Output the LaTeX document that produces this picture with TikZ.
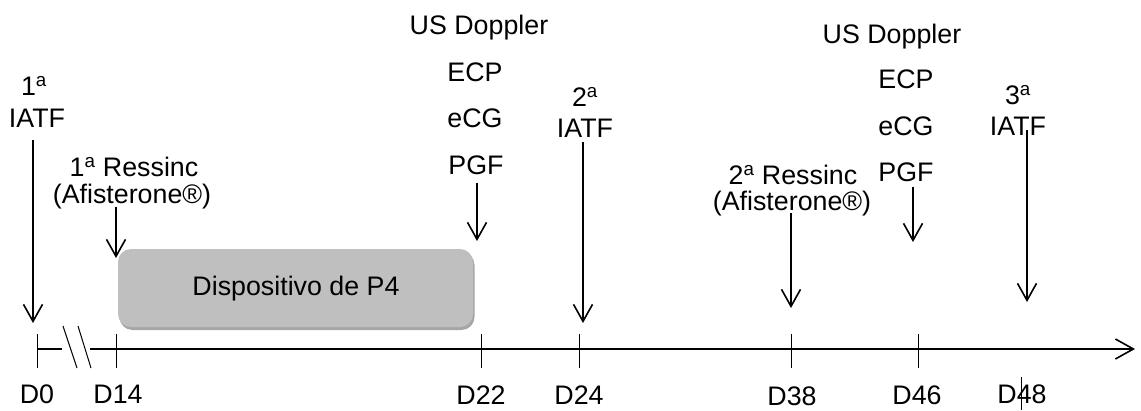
\documentclass[tikz,border=0pt]{standalone}
\usepackage{fontspec}
\setmainfont{Liberation Sans}
\usetikzlibrary{arrows.meta,shadows}
\definecolor{boxgray}{HTML}{BFBFBF}
\begin{document}
\begin{tikzpicture}[x=1pt,y=-1pt,
  txt/.style={inner sep=0pt, font=\fontsize{26.8}{30}\selectfont, anchor=center},
  evarrow/.style={line width=1.8pt, -{Straight Barb[length=17pt,width=19pt,line width=1.6pt]}},
  axisline/.style={line width=2pt},
  tickline/.style={line width=1pt},
  devbox/.style={fill=boxgray, rounded corners=13pt, minimum width=355pt, minimum height=78pt, inner sep=0pt,
    drop shadow={shadow xshift=1.5pt, shadow yshift=-3pt, fill=black, opacity=0.35}}]
\useasboundingbox (0,0) rectangle (1141,410);

% device box
\node[devbox] (dev) at (295.5,288) {};
\node[txt] (devt) at (296,289) {Dispositivo de P4};

% axis
\coordinate (ax0) at (37,349);
\coordinate (axb1) at (62,349);
\coordinate (axb2) at (90,349);
\coordinate (axend) at (1135,349);
\draw[axisline] (ax0) -- (axb1);
\draw[axisline, -{Straight Barb[length=18pt,width=20pt,line width=1.6pt]}] (axb2) -- (axend);
% break marks
\coordinate (br1a) at (63,326); \coordinate (br1b) at (77,368);
\coordinate (br2a) at (78,326); \coordinate (br2b) at (91,368);
\draw[tickline] (br1a) -- (br1b);
\draw[tickline] (br2a) -- (br2b);

% ticks
\foreach \n/\x in {t0/37, t14/116, t22/481, t24/579, t38/791, t46/918}{
  \coordinate (\n a) at (\x,334);
  \coordinate (\n b) at (\x,368);
  \draw[tickline] (\n a) -- (\n b);
}
\coordinate (t48a) at (1021,377); \coordinate (t48b) at (1021,410);
\draw[tickline] (t48a) -- (t48b);

% day labels
\node[txt] (l0) at (37,394) {D0};
\node[txt] (l14) at (118,394) {D14};
\node[txt] (l22) at (481,395) {D22};
\node[txt] (l24) at (579,395) {D24};
\node[txt] (l38) at (792,396) {D38};
\node[txt] (l46) at (917,395) {D46};
\node[txt] (l48) at (1022,394) {D48};

% 1a IATF
\node[txt] (i1a) at (34,86) {1\textsuperscript{a}};
\node[txt] (i1b) at (37,118) {IATF};
\coordinate (a1s) at (33,140); \coordinate (a1e) at (33,323);
\draw[evarrow] (a1s) -- (a1e);

% 1a Ressinc
\node[txt] (r1a) at (134,167) {1\textsuperscript{a} Ressinc};
\node[txt] (r1b) at (132,197) {(Afisterone®)};
\coordinate (a2s) at (116,207); \coordinate (a2e) at (116,258);
\draw[evarrow] (a2s) -- (a2e);

% US Doppler 1
\node[txt] (u1) at (479,28) {US Doppler};
\node[txt] (u1b) at (475,72) {ECP};
\node[txt] (u1c) at (475,118) {eCG};
\node[txt] (u1d) at (476,165) {PGF};
\coordinate (a3s) at (477,183); \coordinate (a3e) at (477,241);
\draw[evarrow] (a3s) -- (a3e);

% 2a IATF
\node[txt] (i2a) at (585,97) {2\textsuperscript{a}};
\node[txt] (i2b) at (585,128) {IATF};
\coordinate (a4s) at (583,142); \coordinate (a4e) at (583,323);
\draw[evarrow] (a4s) -- (a4e);

% 2a Ressinc
\node[txt] (r2a) at (793,175) {2\textsuperscript{a} Ressinc};
\node[txt] (r2b) at (792,204) {(Afisterone®)};
\coordinate (a5s) at (791,213); \coordinate (a5e) at (791,308);
\draw[evarrow] (a5s) -- (a5e);

% US Doppler 2
\node[txt] (u2) at (892,37) {US Doppler};
\node[txt] (u2b) at (906,79) {ECP};
\node[txt] (u2c) at (906,126) {eCG};
\node[txt] (u2d) at (906,172) {PGF};
\coordinate (a6s) at (913,187); \coordinate (a6e) at (913,242);
\draw[evarrow] (a6s) -- (a6e);

% 3a IATF
\node[txt] (i3a) at (1018,95) {3\textsuperscript{a}};
\node[txt] (i3b) at (1018,126) {IATF};
\coordinate (a7s) at (1027,130); \coordinate (a7e) at (1027,302);
\draw[evarrow] (a7s) -- (a7e);
\end{tikzpicture}
\end{document}
